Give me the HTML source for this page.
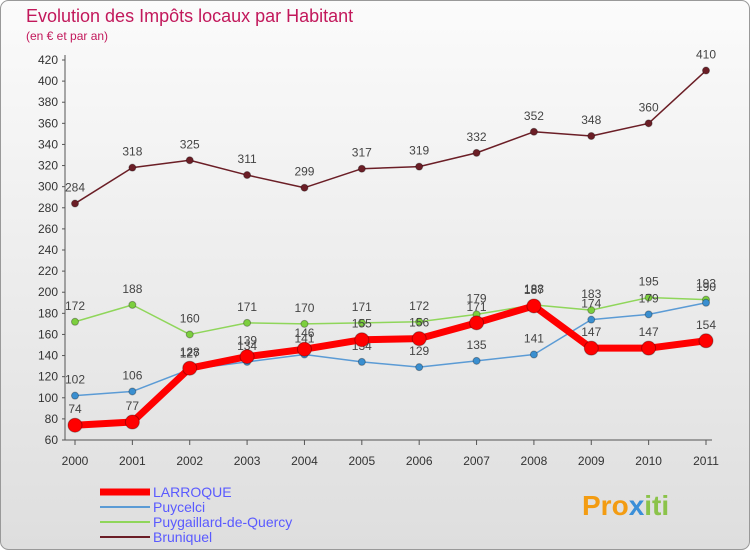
<!DOCTYPE html>
<html><head><meta charset="utf-8"><style>
body{margin:0;background:#fff;}
svg text{font-family:"Liberation Sans",sans-serif;}
</style></head><body>
<svg width="750" height="550" xmlns="http://www.w3.org/2000/svg">
<defs><linearGradient id="bg" x1="0" y1="0" x2="0" y2="1"><stop offset="0" stop-color="#fbfbfb"/><stop offset="1" stop-color="#dedede"/></linearGradient></defs>
<rect x="0.5" y="0.5" width="749" height="549" rx="8" fill="url(#bg)" stroke="#999"/>
<text x="26" y="22" font-size="18" fill="#c2185b">Evolution des Impôts locaux par Habitant</text>
<text x="26" y="40" font-size="12" fill="#c2185b">(en € et par an)</text>
<g id="axes"></g>
<g id="series"></g>
<g id="legend"></g>
<text x="582" y="515" font-size="28" font-weight="bold" fill="#f39c12">Pro<tspan fill="#3a8fd8">x</tspan><tspan fill="#8bc34a">iti</tspan></text>
</svg>
<script>
const years=["2000","2001","2002","2003","2004","2005","2006","2007","2008","2009","2010","2011"];
const yTicks=[60,80,100,120,140,160,180,200,220,240,260,280,300,320,340,360,380,400,420];
const larroque=[74,77,128,139,146,155,156,171,187,147,147,154];
const puycelci=[102,106,127,134,141,134,129,135,141,174,179,190];
const puygaillard=[172,188,160,171,170,171,172,179,188,183,195,193];
const bruniquel=[284,318,325,311,299,317,319,332,352,348,360,410];
const NS="http://www.w3.org/2000/svg";
const X=i=>75+i*(706-75)/11;
const Y=v=>440-(v-60)*380/360;
function mk(t,a,p){const e=document.createElementNS(NS,t);for(const k in a)e.setAttribute(k,a[k]);p.appendChild(e);return e;}
const ax=document.getElementById('axes');
yTicks.forEach(v=>{
 const l=mk('line',{x1:62,x2:65,y1:Y(v),y2:Y(v),stroke:'#555'},ax);
 
 
 const t=mk('text',{x:58,y:Y(v)+4,'font-size':12,'text-anchor':'end',fill:'#333'},ax);
 t.textContent=v;
 
 
});
const yl=mk('line',{x1:65,x2:65,y1:Y(420)-5,y2:Y(60),stroke:'#555'},ax);


const xl=mk('line',{x1:65,x2:712,y1:Y(60),y2:Y(60),stroke:'#555'},ax);


years.forEach((y,i)=>{
 const t=mk('text',{x:X(i),y:465,'font-size':12,'text-anchor':'middle',fill:'#333'},ax);
 t.textContent=y;
 
 
 mk('line',{x1:X(i),x2:X(i),y1:440,y2:445,stroke:'#555'},ax);
});
const sg=document.getElementById('series');
function draw(vals,color,w,r,name,dot){
 const g=mk('g',{},sg);
 
 
 const p=mk('polyline',{points:vals.map((v,i)=>X(i)+','+Y(v)).join(' '),fill:'none',stroke:color,'stroke-width':w,'stroke-linejoin':'round'},g);
 
 
 vals.forEach((v,i)=>{
  const c=mk('circle',{cx:X(i),cy:Y(v),r:r,fill:dot,stroke:'rgba(0,0,0,0.3)'},g);
  
  
  const t=mk('text',{x:X(i),y:Y(v)-12,'font-size':12,'text-anchor':'middle',fill:'#444'},g);
  t.textContent=v;
  
  
 });
}
draw(bruniquel,'#6b1e26',1.5,3.5,'bruniquel','#6b1e26');
draw(puygaillard,'#8fd65a',1.5,3.5,'puygaillard','#7ccf3e');
draw(puycelci,'#5b9bd5',1.5,3.5,'puycelci','#3a8fd0');
draw(larroque,'#ff0000',7,7,'larroque','#ff0000');
const lg=document.getElementById('legend');
[['LARROQUE','#ff0000',7],['Puycelci','#5b9bd5',2],['Puygaillard-de-Quercy','#8fd65a',2],['Bruniquel','#6b1e26',2]].forEach((d,i)=>{
 const y=492+i*15;
 const l=mk('line',{x1:100,x2:150,y1:y,y2:y,stroke:d[1],'stroke-width':d[2]},lg);
 
 
 const t=mk('text',{x:153,y:y+5,'font-size':14,fill:'#5a5aff'},lg);
 t.textContent=d[0];
 
 
});
</script>
</body></html>
